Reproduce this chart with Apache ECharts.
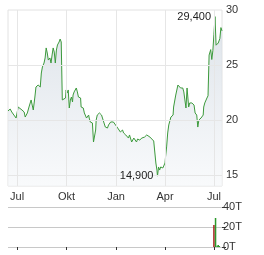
<!DOCTYPE html>
<html><head><meta charset="utf-8">
<script src="https://cdn.jsdelivr.net/npm/echarts@6/dist/echarts.min.js"></script>
<style>html,body{margin:0;padding:0;background:#fff}#c{width:264px;height:255px}</style>
</head><body><div id="c"></div>
<script>
const dates = [
'2023-06-14','2023-06-18','2023-06-21','2023-06-25','2023-06-29','2023-07-01','2023-07-03','2023-07-06','2023-07-10','2023-07-14',
'2023-07-16','2023-07-20','2023-07-23','2023-07-27','2023-07-29','2023-07-31','2023-08-03','2023-08-05','2023-08-09','2023-08-13',
'2023-08-15','2023-08-17','2023-08-20','2023-08-22','2023-08-24','2023-08-26','2023-08-28','2023-08-31','2023-09-02','2023-09-04',
'2023-09-06','2023-09-08','2023-09-10','2023-09-12','2023-09-14','2023-09-15','2023-09-17','2023-09-19','2023-09-21','2023-09-23',
'2023-09-25','2023-09-29','2023-09-30','2023-10-02','2023-10-04','2023-10-06','2023-10-08','2023-10-10','2023-10-12','2023-10-13',
'2023-10-15','2023-10-19','2023-10-21','2023-10-23','2023-10-27','2023-10-28','2023-11-01','2023-11-03','2023-11-05','2023-11-07',
'2023-11-11','2023-11-12','2023-11-14','2023-11-18','2023-11-20','2023-11-22','2023-11-24','2023-11-25','2023-11-27','2023-12-01',
'2023-12-05','2023-12-09','2023-12-12','2023-12-16','2023-12-18','2023-12-22','2023-12-25','2023-12-27','2023-12-31','2024-01-04',
'2024-01-06','2024-01-09','2024-01-13','2024-01-15','2024-01-19','2024-01-21','2024-01-24','2024-01-26','2024-01-30','2024-02-03',
'2024-02-05','2024-02-08','2024-02-10','2024-02-14','2024-02-18','2024-02-21','2024-02-23','2024-02-27','2024-02-29','2024-03-04',
'2024-03-07','2024-03-11','2024-03-13','2024-03-15','2024-03-17','2024-03-18','2024-03-20','2024-03-22','2024-03-24','2024-03-28',
'2024-04-01','2024-04-02','2024-04-04','2024-04-06','2024-04-08','2024-04-12','2024-04-16','2024-04-17','2024-04-21','2024-04-23',
'2024-04-25','2024-04-27','2024-04-30','2024-05-04','2024-05-06','2024-05-08','2024-05-10','2024-05-12','2024-05-14','2024-05-15',
'2024-05-17','2024-05-21','2024-05-25','2024-05-27','2024-05-30','2024-06-01','2024-06-03','2024-06-07','2024-06-11','2024-06-12',
'2024-06-14','2024-06-18','2024-06-20','2024-06-22','2024-06-25','2024-06-27','2024-06-29','2024-07-01','2024-07-03','2024-07-05',
'2024-07-09','2024-07-12','2024-07-14','2024-07-16'
];
const prices = [
20.82,21.00,20.73,20.45,20.18,20.00,21.18,21.09,20.91,20.73,
20.27,20.64,21.18,21.82,21.36,20.91,22.09,23.00,23.18,23.00,
24.27,24.82,25.18,25.64,26.55,26.09,25.45,25.64,25.18,25.91,
26.55,26.18,25.18,26.36,26.82,27.00,27.09,27.36,27.09,21.82,
21.82,22.00,22.73,22.45,22.73,21.09,21.82,22.09,21.64,22.27,
22.55,22.91,22.55,22.09,22.00,21.18,21.09,20.64,20.73,20.18,
20.45,20.18,19.82,19.73,18.00,18.00,19.09,20.00,20.45,20.64,
20.45,19.82,19.36,19.27,19.55,19.82,20.00,19.82,19.55,19.27,
19.09,18.91,19.09,18.82,18.64,18.82,18.36,18.64,18.00,18.36,
18.18,18.00,18.27,18.18,18.36,18.45,18.45,18.64,18.64,18.45,
18.27,18.09,17.91,16.09,15.45,14.90,15.73,15.45,15.73,15.64,
16.09,16.64,17.55,18.82,19.55,20.27,20.45,21.18,22.27,22.09,
23.18,23.36,22.91,22.91,22.55,21.82,21.09,22.91,22.91,21.18,
21.55,21.55,21.36,20.64,20.45,19.36,20.00,20.18,20.45,21.18,
21.55,22.00,22.20,25.90,26.40,25.50,26.30,27.80,29.40,26.80,
27.00,27.40,28.40,28.10
];
const volDates = ['2024-07-01','2024-07-04','2024-07-07','2024-07-09','2024-07-11'];
const volValues = [22, 29, 1.2, 2, 1];
const volUp = [false, true, true, true, true];
const monthTicks = ['2023-07-01','2023-10-01','2024-01-01','2024-04-01','2024-07-01'];
const monthLabels = ['Jul','Okt','Jan','Apr','Jul'];
const yTicks = [15, 20, 25, 30];
const axisStart = '2023-06-14';
const axisEnd = '2024-07-16';

const ts = s => { const p = s.split('-').map(Number); return new Date(p[0], p[1]-1, p[2]).getTime(); };
const tickTs = monthTicks.map(ts);
const fmtMonth = v => { let best = -1, bd = Infinity; tickTs.forEach((t,i)=>{const d=Math.abs(t-v); if(d<bd){bd=d;best=i;}}); return bd < 86400000*3 ? monthLabels[best] : ''; };
const font = 'Liberation Sans, Arial, sans-serif';

const chart = echarts.init(document.getElementById('c'), null, {renderer:'canvas'});
chart.setOption({
  animation: false,
  backgroundColor: '#fff',
  grid: [
    {left: 8, top: 10, width: 214, height: 176, show: true, borderColor: '#e2e2e2', borderWidth: 1, backgroundColor: 'transparent'},
    {left: 8, top: 207, width: 214, height: 40}
  ],
  xAxis: [
    {type: 'value', gridIndex: 0, min: ts(axisStart), max: ts(axisEnd), scale: true,
     axisLine: {show: false}, axisTick: {show: false}, splitLine: {show: false},
     axisLabel: {customValues: tickTs, formatter: fmtMonth, color: '#333', fontSize: 11, fontFamily: font, margin: 5}},
    {type: 'value', gridIndex: 1, position: 'top', min: ts(axisStart), max: ts(axisEnd), scale: true,
     axisLine: {show: false}, axisLabel: {show: false}, splitLine: {show: false},
     axisTick: {show: true, customValues: tickTs, inside: true, length: 3, lineStyle: {color: '#333'}}}
  ],
  yAxis: [
    {type: 'value', gridIndex: 0, position: 'right', min: 14, max: 30, interval: 1,
     axisLine: {show: false}, axisTick: {show: false}, splitLine: {show: false},
     axisLabel: {formatter: v => (yTicks.indexOf(v) >= 0 ? String(v) : ''), color: '#333', fontSize: 11, fontFamily: font, margin: 4}},
    {type: 'value', gridIndex: 1, position: 'right', min: 0, max: 40, interval: 20,
     axisLine: {show: false}, axisTick: {show: true, length: 4, lineStyle: {color: '#333'}},
     splitLine: {show: true, lineStyle: {color: '#c8c8c8', width: 1}},
     axisLabel: {formatter: v => v + 'T', color: '#333', fontSize: 11, fontFamily: font, margin: 1}}
  ],
  series: [
    {type: 'line', xAxisIndex: 0, yAxisIndex: 0,
     data: dates.map((d,i) => [ts(d), prices[i]]),
     showSymbol: false, symbol: 'none',
     lineStyle: {color: '#3c9a3c', width: 1},
     areaStyle: {color: new echarts.graphic.LinearGradient(0,0,0,1,[{offset:0,color:'#d0d8e1'},{offset:1,color:'#f6f8fa'}]), origin: 'start'},
     markLine: {silent: true, symbol: ['none','none'], label: {show: false},
       lineStyle: {color: '#e6e6e6', type: 'solid', width: 1},
       data: tickTs.map(t => ({xAxis: t})).concat(yTicks.filter(v => v < 30).map(v => ({yAxis: v})))},
     markPoint: {silent: true, symbol: 'circle', symbolSize: 0,
       label: {show: true, position: 'left', distance: 4, color: '#222', fontSize: 11, fontFamily: font,
         formatter: p => p.value.toFixed(3).replace('.', ',')},
       data: [{type: 'max'}, {type: 'min'}]}
    },
    {type: 'bar', xAxisIndex: 1, yAxisIndex: 1, barWidth: 1.5,
     data: volDates.map((d,i) => [ts(d), volValues[i]]),
     itemStyle: {color: p => volUp[p.dataIndex] ? '#2c9a2c' : '#a81c1c'}}
  ]
});
</script></body></html>
